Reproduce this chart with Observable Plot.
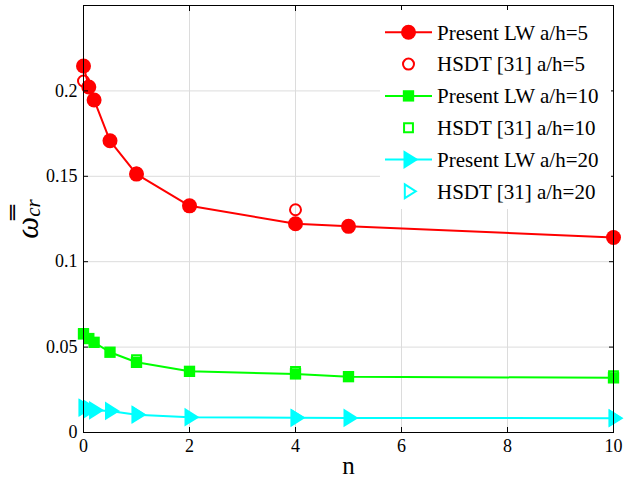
<!DOCTYPE html>
<html><head><meta charset="utf-8">
<script src="https://cdn.jsdelivr.net/npm/d3@7"></script>
<script src="https://cdn.jsdelivr.net/npm/@observablehq/plot@0.6"></script>
<style>
body{margin:0;background:#fff;}
#chart svg{display:block;}
#chart svg text{font-family:'Liberation Serif','Times New Roman',serif;}
</style>
</head><body><div id="chart"></div>
<script>
// ---- data ----
const nValues = [0, 0.1, 0.2, 0.5, 1, 2, 4, 5, 10];
const lw5  = [0.2146, 0.2023, 0.1947, 0.1708, 0.1513, 0.1327, 0.1222, 0.1207, 0.1142];
const lw10 = [0.0577, 0.0550, 0.0528, 0.0470, 0.0411, 0.0358, 0.0343, 0.0327, 0.0320];
const lw20 = [0.0145, 0.0137, 0.0130, 0.0126, 0.0104, 0.0090, 0.0086, 0.0085, 0.0084];
const hsdtN  = [0, 1, 4, 10];
const hsdt5  = [0.2058, 0.1520, 0.1304, 0.1145];
const hsdt10 = [0.0580, 0.0427, 0.0357, 0.0333];
const hsdt20 = [0.0146, 0.0106, 0.0088, 0.0085];
const xTicks = [0, 2, 4, 6, 8, 10];
const yTicks = [0, 0.05, 0.1, 0.15, 0.2];
const legendLabels = ["Present LW a/h=5", "HSDT [31] a/h=5", "Present LW a/h=10", "HSDT [31] a/h=10", "Present LW a/h=20", "HSDT [31] a/h=20"];
const colors = ["#ff0000", "#00ff00", "#00ffff"];

// right-pointing triangle symbol (centroid at the point)
const triRight = {draw(ctx, size) {
  const r = Math.sqrt(size / Math.PI);
  ctx.moveTo(1.33 * r, 0);
  ctx.lineTo(-0.67 * r, -1.25 * r);
  ctx.lineTo(-0.67 * r, 1.25 * r);
  ctx.closePath();
}};

const series = [
  {lw: lw5,  hs: hsdt5,  color: colors[0], sym: "circle", r: 7.5, hr: 5.5},
  {lw: lw10, hs: hsdt10, color: colors[1], sym: "square", r: 6.4, hr: 5.0},
  {lw: lw20, hs: hsdt20, color: colors[2], sym: triRight, r: 7.5, hr: 5.5}
];

const marks = [
  Plot.gridX({ticks: [2, 4, 6, 8], stroke: "#dcdcdc", strokeOpacity: 1}),
  Plot.gridY({ticks: [0.05, 0.1, 0.15, 0.2], stroke: "#dcdcdc", strokeOpacity: 1}),
];
for (const s of series) {
  marks.push(Plot.line(nValues, {x: d => d, y: (d, i) => s.lw[i], stroke: s.color, strokeWidth: 2}));
}
for (const s of series) {
  marks.push(Plot.dot(hsdtN, {x: d => d, y: (d, i) => s.hs[i], symbol: s.sym, r: s.hr, stroke: s.color, strokeWidth: 2, fill: "none"}));
  marks.push(Plot.dot(nValues, {x: d => d, y: (d, i) => s.lw[i], symbol: s.sym, r: s.r, fill: s.color, stroke: "none"}));
}
marks.push(
  Plot.frame({stroke: "black", strokeWidth: 1}),
  Plot.axisX({ticks: xTicks, anchor: "bottom", tickSize: 0, tickPadding: 7, label: null, fontSize: 18}),
  Plot.axisX({ticks: xTicks, anchor: "bottom", tickSize: -5, tickFormat: () => "", label: null}),
  Plot.axisX({ticks: xTicks, anchor: "top", tickSize: -5, tickFormat: () => "", label: null}),
  Plot.axisY({ticks: yTicks, anchor: "left", tickSize: 0, tickPadding: 6, label: null, fontSize: 18, tickFormat: d => String(d)}),
  Plot.axisY({ticks: yTicks, anchor: "left", tickSize: -5, tickFormat: () => "", label: null}),
  Plot.axisY({ticks: yTicks, anchor: "right", tickSize: -5, tickFormat: () => "", label: null}),
  Plot.text(["n"], {frameAnchor: "bottom", dy: 33, lineAnchor: "middle", fontSize: 25})
);

const chart = Plot.plot({
  width: 625, height: 477,
  marginLeft: 83, marginRight: 12, marginTop: 5, marginBottom: 45,
  x: {domain: [0, 10]},
  y: {domain: [0, 0.25]},
  style: {fontSize: "18px", background: "white", color: "black"},
  marks
});
document.getElementById("chart").appendChild(chart);

const svg = d3.select(chart);
// y-axis label
const yl = svg.append("text")
  .attr("transform", "translate(38,219) rotate(-90)")
  .attr("text-anchor", "middle")
  .attr("fill", "black")
  .style("font-style", "italic");
yl.append("tspan").style("font-size", "31px").text("\u03C9\u033F");
yl.append("tspan").style("font-size", "21px").attr("dy", 2).text("cr");

// legend
const lg = svg.append("g").attr("text-anchor", "start");
lg.append("rect").attr("x", 380).attr("y", 10).attr("width", 231).attr("height", 199).attr("fill", "white");
legendLabels.forEach((lab, i) => {
  const s = series[Math.floor(i / 2)];
  const y = 32.3 + i * 31.8;
  const present = i % 2 === 0;
  if (present) {
    lg.append("line").attr("x1", 385).attr("x2", 432).attr("y1", y).attr("y2", y)
      .attr("stroke", s.color).attr("stroke-width", 2);
  }
  const type = s.sym === "circle" ? d3.symbolCircle : s.sym === "square" ? d3.symbolSquare : triRight;
  const r = present ? s.r : s.hr;
  lg.append("path").attr("transform", `translate(408.5,${y})`)
    .attr("d", d3.symbol(type, r * r * Math.PI)())
    .attr("fill", present ? s.color : "none")
    .attr("stroke", present ? "none" : s.color)
    .attr("stroke-width", 2);
  lg.append("text").attr("x", 437).attr("y", y).attr("dy", "0.35em")
    .attr("text-anchor", "start").style("font-size", "21px").text(lab);
});
</script>
</body></html>
